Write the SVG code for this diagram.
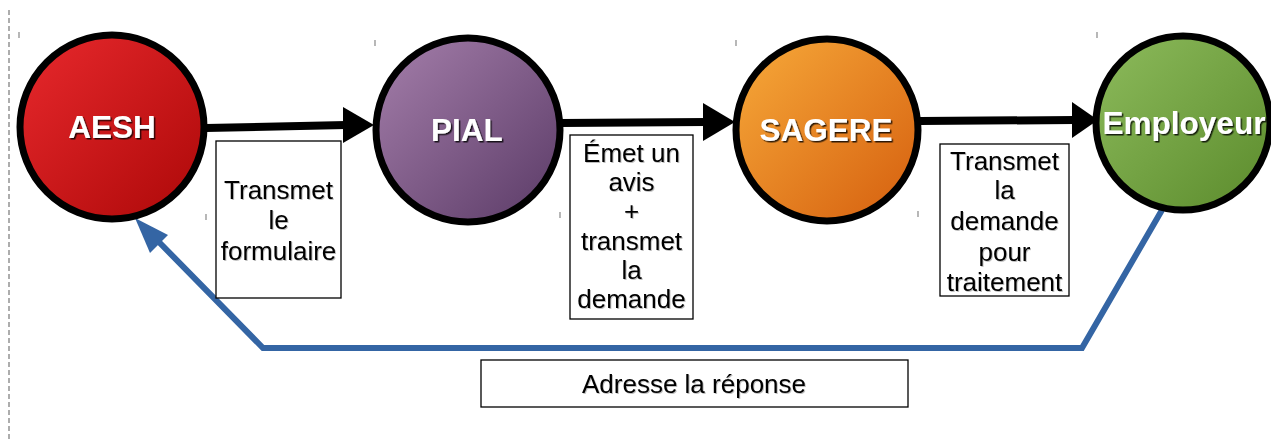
<svg xmlns="http://www.w3.org/2000/svg" width="1271" height="439" viewBox="0 0 1271 439">
<style>
.circ{stroke:#000;stroke-width:7}
.ntxt{font-family:"Liberation Sans",Arial,sans-serif;font-weight:bold;font-size:31.5px;fill:#fff;text-anchor:middle;filter:url(#sh)}
.box{fill:#fff;stroke:#000;stroke-width:1.3}
.btxt{font-family:"Liberation Sans",Arial,sans-serif;font-size:26px;fill:#000;text-anchor:middle;filter:url(#sh2)}
.tick{stroke:#888;stroke-width:1.2}
.blk{stroke:#000;stroke-width:8;fill:none}
.blue{stroke:#3465A4;stroke-width:6;fill:none;stroke-linejoin:miter}
</style>
<defs>
<linearGradient id="gRed" x1="0" y1="0" x2="1" y2="1"><stop offset="0" stop-color="#E8292D"/><stop offset="1" stop-color="#AC0808"/></linearGradient>
<linearGradient id="gPur" x1="0" y1="0" x2="1" y2="1"><stop offset="0" stop-color="#A57FAB"/><stop offset="1" stop-color="#5A3A66"/></linearGradient>
<linearGradient id="gOra" x1="0" y1="0" x2="1" y2="1"><stop offset="0" stop-color="#F7AA3A"/><stop offset="1" stop-color="#D55E0E"/></linearGradient>
<linearGradient id="gGrn" x1="0" y1="0" x2="1" y2="1"><stop offset="0" stop-color="#8DBB5C"/><stop offset="1" stop-color="#5B8B2C"/></linearGradient>
<filter id="sh" x="-10%" y="-20%" width="130%" height="150%"><feDropShadow dx="1.5" dy="1.5" stdDeviation="0.4" flood-color="#000" flood-opacity="0.8"/></filter>
<filter id="sh2" x="-10%" y="-20%" width="130%" height="150%"><feDropShadow dx="1" dy="1" stdDeviation="0.5" flood-color="#000" flood-opacity="0.25"/></filter>
</defs>
<rect width="1271" height="439" fill="#fff"/>
<line x1="9" y1="10" x2="9" y2="439" stroke="#777" stroke-width="1.2" stroke-dasharray="5,3"/>
<g id="ticks">
<line class="tick" x1="19" y1="32" x2="19" y2="38"/>
<line class="tick" x1="375" y1="40" x2="375" y2="46"/>
<line class="tick" x1="736" y1="40" x2="736" y2="46"/>
<line class="tick" x1="1097" y1="32" x2="1097" y2="38"/>
<line class="tick" x1="206" y1="214" x2="206" y2="220"/>
<line class="tick" x1="560" y1="212" x2="560" y2="218"/>
<line class="tick" x1="918" y1="211" x2="918" y2="217"/>
</g>
<g id="connectors">
<path class="blk" d="M206 128 L346 125"/>
<polygon points="343,107 374,125 343,143" fill="#000"/>
<path class="blk" d="M561 123 L706 122"/>
<polygon points="703,103 735,122 703,141" fill="#000"/>
<path class="blk" d="M920 121 L1075 120"/>
<polygon points="1072,102 1098,120 1072,138" fill="#000"/>
<path class="blue" d="M1162 210 L1082 348 L263 348 L155 238"/>
<polygon points="135,218 168,235 150,253" fill="#3465A4"/>
</g>
<g id="node-aesh">
<circle class="circ" cx="112" cy="127" r="92" fill="url(#gRed)"/>
<text class="ntxt" x="112" y="138">AESH</text>
</g>
<g id="node-pial">
<circle class="circ" cx="468" cy="130" r="92" fill="url(#gPur)"/>
<text class="ntxt" x="467" y="141">PIAL</text>
</g>
<g id="node-sagere">
<circle class="circ" cx="827" cy="130" r="91" fill="url(#gOra)"/>
<text class="ntxt" x="826" y="141">SAGERE</text>
</g>
<g id="node-employeur">
<circle class="circ" cx="1183" cy="123" r="87" fill="url(#gGrn)"/>
<text class="ntxt" x="1184" y="134">Employeur</text>
</g>
<g id="label-1">
<rect class="box" x="216" y="141" width="125" height="157"/>
<text class="btxt" x="278.5" y="199">Transmet</text>
<text class="btxt" x="278.5" y="229">le</text>
<text class="btxt" x="278.5" y="260">formulaire</text>
</g>
<g id="label-2">
<rect class="box" x="570" y="135" width="123" height="184"/>
<text class="btxt" x="631.5" y="162">Émet un</text>
<text class="btxt" x="631.5" y="191">avis</text>
<text class="btxt" x="631.5" y="220">+</text>
<text class="btxt" x="631.5" y="250">transmet</text>
<text class="btxt" x="631.5" y="279">la</text>
<text class="btxt" x="631.5" y="308">demande</text>
</g>
<g id="label-3">
<rect class="box" x="940" y="144" width="129" height="152"/>
<text class="btxt" x="1004.5" y="170">Transmet</text>
<text class="btxt" x="1004.5" y="199">la</text>
<text class="btxt" x="1004.5" y="230">demande</text>
<text class="btxt" x="1004.5" y="261">pour</text>
<text class="btxt" x="1004.5" y="291">traitement</text>
</g>
<g id="label-4">
<rect class="box" x="481" y="360" width="427" height="47"/>
<text class="btxt" x="694" y="393">Adresse la réponse</text>
</g>
</svg>
